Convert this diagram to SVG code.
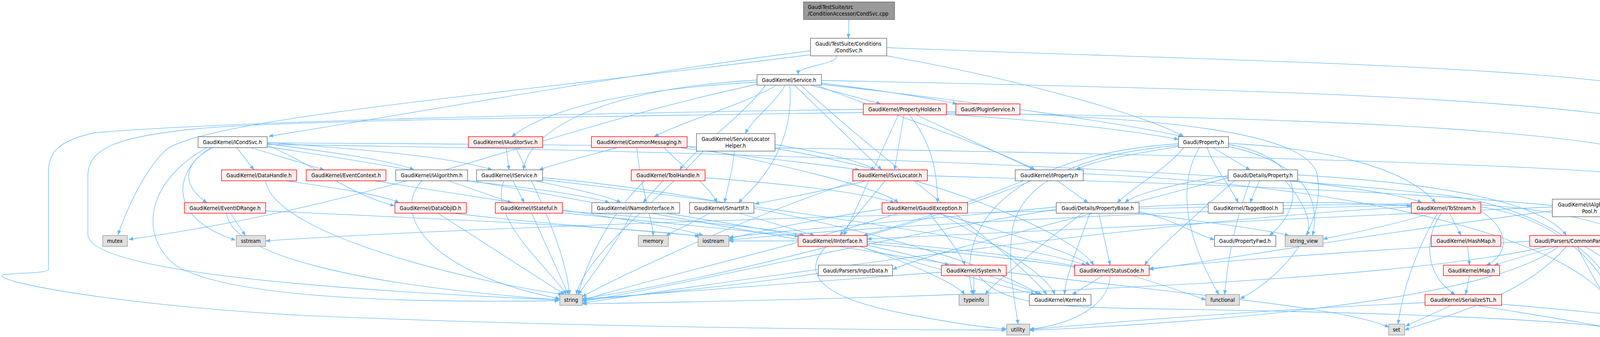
<svg xmlns="http://www.w3.org/2000/svg" width="4546" height="863" viewBox="0 0 4546 863">
<defs>
<marker id="a" viewBox="0 0 11 11" refX="11" refY="5.5" markerWidth="11" markerHeight="11" markerUnits="userSpaceOnUse" orient="auto"><path d="M0,1 L11,5.5 L0,10 z" fill="#63b8ff" stroke="#63b8ff" stroke-width="0.5"/></marker>
</defs>
<style>
.e path{fill:none;stroke:#63b8ff;stroke-width:1.3;marker-end:url(#a)}
rect{stroke-width:1.4}
.w rect{fill:#ffffff;stroke:#666666}
.r rect{fill:#fff0f0;stroke:#ff0000}
.g rect{fill:#e0e0e0;stroke:#999999}
.k rect{fill:#999999;stroke:#666666}
text{font-family:'DejaVu Sans Condensed','DejaVu Sans',sans-serif;font-stretch:condensed;font-size:14px;fill:#000000;text-anchor:middle}
.k text{text-anchor:start}
</style>
<rect width="4546" height="863" fill="#ffffff"/>
<g id="edges" class="e">
<path d="M2173,50 L2172,98"/>
<path d="M2142,143 C2142,167 2043,167 2043,191"/>
<path d="M2075,130 C1600,190 1000,300 688,349"/>
<path d="M2075,140 C1300,240 560,300 430,380 C380,420 330,520 302,601"/>
<path d="M2270,143 C2600,200 2950,300 3030,350"/>
<path d="M2270,122 C3200,160 4388,170 4388,290 L4388,420 C4388,480 4260,505 4166,522"/>
<path d="M1988,218 C1900,270 1750,310 1675,350"/>
<path d="M2010,218 C1980,270 1930,300 1908,342"/>
<path d="M2022,218 C2030,330 1990,430 1890,519"/>
<path d="M2034,218 L2257,435"/>
<path d="M2075,218 L2255,266"/>
<path d="M2103,213 C2250,230 2400,255 2450,266"/>
<path d="M2103,216 C2500,260 2900,320 3028,350"/>
<path d="M1938,210 C1600,230 1400,280 1310,350"/>
<path d="M1938,205 C1500,230 1350,350 1340,435"/>
<path d="M2090,218 C2300,300 2550,380 2650,435"/>
<path d="M1960,218 C1900,300 1780,380 1740,435"/>
<path d="M2050,218 C2300,450 2600,650 2680,754"/>
<path d="M2103,206 C3200,230 4436,250 4436,400 L4436,830"/>
<path d="M1938,216 C1400,330 1000,520 330,613"/>
<path d="M2314,294 L2290,435"/>
<path d="M2328,294 C2380,360 2400,430 2400,519"/>
<path d="M2345,294 L2648,435"/>
<path d="M2423,293 C2700,310 2900,335 3017,357"/>
<path d="M2423,290 C3300,300 4338,330 4338,460 L4338,720 C4338,790 4260,830 4194,842"/>
<path d="M2423,286 C3000,300 3330,340 3370,440 C3400,560 3300,700 3175,765"/>
<path d="M2210,288 C1400,300 700,310 500,330 C300,350 225,380 225,450 L225,600 C225,700 900,745 1431,768"/>
<path d="M2210,280 C1500,290 600,310 242,340 C150,360 124,390 124,440 L124,690 C124,702 5,698 5,706 C5,725 300,780 760,807 C1500,840 2300,845 2575,845"/>
<path d="M2300,294 C2250,400 2200,520 2160,603"/>
<path d="M606,378 L650,435"/>
<path d="M642,378 L830,435"/>
<path d="M545,378 C460,420 470,480 530,519"/>
<path d="M684,372 C800,420 900,500 1010,527"/>
<path d="M684,368 C850,390 1000,410 1060,435"/>
<path d="M684,365 C900,380 1150,400 1260,435"/>
<path d="M540,378 C440,440 430,560 603,615"/>
<path d="M530,378 C380,460 350,600 450,680 C600,770 1100,775 1431,770"/>
<path d="M684,376 C1200,450 2000,620 2600,700 C3100,760 3450,790 3556,838"/>
<path d="M684,370 C1500,380 3000,420 3700,500 C4000,540 4150,700 4158,830"/>
<path d="M684,366 C1800,370 3500,400 4100,440 C4400,470 4440,600 4440,830"/>
<path d="M1296,378 L1303,435"/>
<path d="M1320,378 C1380,500 1450,650 1458,754"/>
<path d="M1700,378 C1750,430 1820,480 1835,519"/>
<path d="M1740,378 C1900,400 2100,420 2200,435"/>
<path d="M1580,378 C1500,400 1420,420 1380,435"/>
<path d="M1759,375 C2000,420 2250,480 2300,519"/>
<path d="M1630,378 C1640,480 1670,560 1672,603"/>
<path d="M1880,387 C1875,440 1860,490 1855,519"/>
<path d="M1984,370 C2100,390 2200,410 2240,435"/>
<path d="M1984,380 C2400,450 2750,600 2800,679"/>
<path d="M1800,387 C1700,500 1500,650 1475,754"/>
<path d="M734,463 C850,480 980,500 1022,519"/>
<path d="M680,463 C700,600 1200,720 1440,754"/>
<path d="M960,463 C1300,520 1700,570 1800,603"/>
<path d="M590,546 L628,603"/>
<path d="M580,546 C590,650 900,730 1433,768"/>
<path d="M680,540 C1100,560 1600,580 1790,605"/>
<path d="M1121,546 L1445,754"/>
<path d="M1160,546 C1400,575 1650,590 1795,605"/>
<path d="M1148,463 L1310,519"/>
<path d="M1190,463 C1350,480 1500,500 1560,519"/>
<path d="M1080,463 C1000,550 1100,700 1433,765"/>
<path d="M1313,463 L1342,519"/>
<path d="M1370,463 C1450,480 1550,500 1590,519"/>
<path d="M1389,455 C1900,500 2500,650 2660,754"/>
<path d="M1389,460 C1900,520 2600,620 2780,679"/>
<path d="M1290,463 C1250,560 1400,680 1450,754"/>
<path d="M1697,463 L1646,519"/>
<path d="M1805,455 C2000,470 2200,490 2290,519"/>
<path d="M1650,463 C1550,560 1500,680 1480,754"/>
<path d="M2266,463 L2150,603"/>
<path d="M2218,463 C2100,490 2000,510 1932,522"/>
<path d="M2190,463 C1900,560 1600,700 1490,760"/>
<path d="M2374,450 C3000,470 4200,500 4380,600 C4430,650 4435,750 4435,830"/>
<path d="M2620,463 C2450,530 2300,580 2210,603"/>
<path d="M2707,463 L2785,519"/>
<path d="M2640,463 C2300,600 1800,720 1490,765"/>
<path d="M2773,445 C3400,470 4100,600 4150,830"/>
<path d="M3224,463 L3200,519"/>
<path d="M3311,463 C3450,480 3600,500 3640,519"/>
<path d="M3322,448 C3700,470 3950,520 4010,603"/>
<path d="M3144,455 C2800,550 2400,640 2285,690"/>
<path d="M3160,463 C3050,560 2950,650 2930,679"/>
<path d="M3290,463 C3340,520 3360,570 3345,603"/>
<path d="M3200,463 C3150,600 3140,700 3135,754"/>
<path d="M3144,450 C3000,470 2900,500 2880,519"/>
<path d="M1440,540 C1700,560 1950,580 2060,603"/>
<path d="M1440,545 C2000,600 2600,660 2760,685"/>
<path d="M1361,546 L1455,754"/>
<path d="M1707,546 C1850,570 1980,590 2045,606"/>
<path d="M1617,546 C1580,620 1520,700 1480,754"/>
<path d="M1893,546 L2085,603"/>
<path d="M1818,546 L1705,603"/>
<path d="M2399,546 C2600,600 2750,650 2790,679"/>
<path d="M2406,546 C2550,630 2680,700 2700,754"/>
<path d="M2380,546 C2420,600 2460,650 2470,679"/>
<path d="M2300,546 C2000,640 1600,730 1491,770"/>
<path d="M2258,535 C2100,560 1950,590 1866,612"/>
<path d="M2916,542 C3000,560 3060,600 3109,614"/>
<path d="M2790,546 C2760,630 2730,700 2725,754"/>
<path d="M2813,546 L2842,679"/>
<path d="M2916,530 C3200,515 3450,515 3613,528"/>
<path d="M2704,536 C2300,600 1800,720 1491,772"/>
<path d="M2916,546 C3100,570 3250,590 3300,603"/>
<path d="M2770,546 C2650,640 2550,720 2522,754"/>
<path d="M2704,530 C2400,560 2000,590 1866,608"/>
<path d="M3711,546 L3740,603"/>
<path d="M3791,540 C3880,600 3850,660 3805,679"/>
<path d="M3690,546 C3650,600 3640,700 3725,754"/>
<path d="M3680,546 C3620,650 3590,750 3579,830"/>
<path d="M3665,546 C3550,580 3450,600 3387,612"/>
<path d="M3613,530 C3000,560 2000,700 1491,776"/>
<path d="M3613,525 C3000,540 2200,580 1866,615"/>
<path d="M3613,522 C2800,530 1200,580 680,617"/>
<path d="M3791,530 C4000,560 4130,700 4150,830"/>
<path d="M3791,525 C4100,540 4400,650 4430,830"/>
<path d="M3974,530 C3300,560 2600,590 2220,612"/>
<path d="M3974,540 C3500,600 3100,670 2942,690"/>
<path d="M4164,544 C4350,600 4455,700 4452,830"/>
<path d="M2200,631 C2400,690 2600,740 2650,754"/>
<path d="M2220,618 C2500,640 2700,670 2760,683"/>
<path d="M2220,628 C2320,650 2400,670 2430,679"/>
<path d="M2200,631 C2350,680 2450,730 2470,754"/>
<path d="M2043,617 C1980,617 1920,617 1866,617"/>
<path d="M2115,631 C2050,700 2100,760 2300,800 C2450,830 2530,840 2577,842"/>
<path d="M3757,631 L3762,679"/>
<path d="M3985,631 L3825,679"/>
<path d="M4038,631 C4080,720 4130,790 4150,830"/>
<path d="M4057,631 C4200,720 4380,800 4425,830"/>
<path d="M4010,631 C3900,760 3700,810 3596,845"/>
<path d="M3916,618 C3500,640 3100,670 2942,688"/>
<path d="M3960,631 C3500,740 2000,770 1491,778"/>
<path d="M3990,631 C3800,780 3000,830 2636,846"/>
<path d="M2095,700 C1900,730 1600,760 1491,768"/>
<path d="M2532,706 L2668,754"/>
<path d="M2493,706 L2493,754"/>
<path d="M2410,697 C2100,720 1700,750 1491,766"/>
<path d="M2505,706 C2560,770 2650,785 2900,790 C3600,800 4000,820 4130,840"/>
<path d="M2823,706 L2745,754"/>
<path d="M2842,706 C2840,780 2750,830 2636,843"/>
<path d="M2898,706 C2980,730 3050,755 3087,768"/>
<path d="M3762,706 L3752,754"/>
<path d="M3716,782 L3598,835"/>
<path d="M3780,782 C3950,810 4080,830 4130,842"/>
<path d="M3844,779 C4100,800 4300,825 4419,842"/>
<path d="M3648,775 C3300,790 2900,820 2636,844"/>
<path d="M3105,378 L3200,435"/>
<path d="M3030,378 C2990,430 2900,480 2860,519"/>
<path d="M3145,370 C3330,400 3350,520 3250,603"/>
<path d="M3017,375 C2900,395 2800,410 2755,435"/>
<path d="M3090,378 C3110,430 3150,480 3170,519"/>
<path d="M3145,367 C3400,380 3600,430 3675,519"/>
<path d="M3145,375 C3350,420 3380,520 3360,603"/>
<path d="M3017,368 C2550,400 2450,600 2490,754"/>
<path d="M3017,372 C2700,400 2600,500 2590,600 C2580,700 2600,780 2606,830"/>
<path d="M3070,378 C3000,500 3060,650 3120,754"/>
</g>
<g id="root" class="k"><rect x="2057" y="5" width="233" height="45"/><text x="2068" y="23">GaudiTestSuite/src</text><text x="2068" y="40">/ConditionAccessor/CondSvc.cpp</text></g>
<g id="condsvch" class="w"><rect x="2075" y="98" width="195" height="45"/><text x="2172" y="117">Gaudi/TestSuite/Conditions</text><text x="2172" y="134">/CondSvc.h</text></g>
<g id="service" class="w"><rect x="1938" y="191" width="165" height="27"/><text x="2020" y="210">GaudiKernel/Service.h</text></g>
<g id="propholder" class="r"><rect x="2210" y="266" width="213" height="28"/><text x="2316" y="285">GaudiKernel/PropertyHolder.h</text></g>
<g id="plugin" class="r"><rect x="2447" y="266" width="164" height="28"/><text x="2529" y="285">Gaudi/PluginService.h</text></g>
<g id="icondsvc" class="w"><rect x="507" y="350" width="177" height="28"/><text x="595" y="369">GaudiKernel/ICondSvc.h</text></g>
<g id="iauditor" class="r"><rect x="1199" y="350" width="190" height="28"/><text x="1294" y="369">GaudiKernel/IAuditorSvc.h</text></g>
<g id="commonmsg" class="r"><rect x="1514" y="350" width="245" height="28"/><text x="1636" y="369">GaudiKernel/CommonMessaging.h</text></g>
<g id="slh" class="w"><rect x="1783" y="342" width="201" height="45"/><text x="1883" y="361">GaudiKernel/ServiceLocator</text><text x="1883" y="378">Helper.h</text></g>
<g id="property" class="w"><rect x="3017" y="350" width="128" height="28"/><text x="3081" y="369">Gaudi/Property.h</text></g>
<g id="datahandle" class="r"><rect x="567" y="435" width="192" height="28"/><text x="663" y="454">GaudiKernel/DataHandle.h</text></g>
<g id="eventctx" class="r"><rect x="784" y="435" width="204" height="28"/><text x="886" y="454">GaudiKernel/EventContext.h</text></g>
<g id="ialgorithm" class="w"><rect x="1013" y="435" width="184" height="28"/><text x="1105" y="454">GaudiKernel/IAlgorithm.h</text></g>
<g id="iservice" class="w"><rect x="1220" y="435" width="169" height="28"/><text x="1304" y="454">GaudiKernel/IService.h</text></g>
<g id="toolhandle" class="r"><rect x="1616" y="435" width="189" height="28"/><text x="1710" y="454">GaudiKernel/ToolHandle.h</text></g>
<g id="isvclocator" class="r"><rect x="2183" y="435" width="191" height="28"/><text x="2278" y="454">GaudiKernel/ISvcLocator.h</text></g>
<g id="iproperty" class="w"><rect x="2599" y="435" width="174" height="28"/><text x="2686" y="454">GaudiKernel/IProperty.h</text></g>
<g id="detprop" class="w"><rect x="3144" y="435" width="178" height="28"/><text x="3233" y="454">Gaudi/Details/Property.h</text></g>
<g id="ialgrp" class="w"><rect x="3974" y="510" width="190" height="45"/><text x="4069" y="529">GaudiKernel/IAlgResource</text><text x="4069" y="546">Pool.h</text></g>
<g id="eventidrange" class="r"><rect x="472" y="519" width="208" height="27"/><text x="576" y="538">GaudiKernel/EventIDRange.h</text></g>
<g id="dataobjid" class="r"><rect x="1011" y="519" width="183" height="27"/><text x="1102" y="538">GaudiKernel/DataObjID.h</text></g>
<g id="istateful" class="r"><rect x="1268" y="519" width="172" height="27"/><text x="1354" y="538">GaudiKernel/IStateful.h</text></g>
<g id="inamed" class="w"><rect x="1515" y="519" width="225" height="27"/><text x="1627" y="538">GaudiKernel/INamedInterface.h</text></g>
<g id="smartif" class="w"><rect x="1765" y="519" width="165" height="27"/><text x="1847" y="538">GaudiKernel/SmartIF.h</text></g>
<g id="gaudiexc" class="r"><rect x="2258" y="519" width="219" height="27"/><text x="2367" y="538">GaudiKernel/GaudiException.h</text></g>
<g id="propbase" class="w"><rect x="2704" y="519" width="212" height="27"/><text x="2810" y="538">Gaudi/Details/PropertyBase.h</text></g>
<g id="taggedbool" class="w"><rect x="3093" y="519" width="192" height="27"/><text x="3189" y="538">GaudiKernel/TaggedBool.h</text></g>
<g id="tostream" class="r"><rect x="3613" y="519" width="178" height="27"/><text x="3702" y="538">GaudiKernel/ToStream.h</text></g>
<g id="mutex" class="g"><rect x="263" y="603" width="63" height="28"/><text x="294" y="622">mutex</text></g>
<g id="sstream" class="g"><rect x="605" y="603" width="75" height="28"/><text x="642" y="622">sstream</text></g>
<g id="memory" class="g"><rect x="1634" y="603" width="77" height="28"/><text x="1672" y="622">memory</text></g>
<g id="iostream" class="g"><rect x="1787" y="603" width="79" height="28"/><text x="1826" y="622">iostream</text></g>
<g id="iinterface" class="r"><rect x="2043" y="603" width="177" height="28"/><text x="2131" y="622">GaudiKernel/IInterface.h</text></g>
<g id="propfwd" class="w"><rect x="3109" y="603" width="157" height="28"/><text x="3187" y="622">Gaudi/PropertyFwd.h</text></g>
<g id="stringview" class="g"><rect x="3290" y="603" width="97" height="28"/><text x="3338" y="622">string_view</text></g>
<g id="hashmap" class="r"><rect x="3664" y="603" width="178" height="28"/><text x="3753" y="622">GaudiKernel/HashMap.h</text></g>
<g id="commonparsers" class="r"><rect x="3916" y="603" width="233" height="28"/><text x="4032" y="622">Gaudi/Parsers/CommonParsers.h</text></g>
<g id="inputdata" class="w"><rect x="2095" y="679" width="190" height="27"/><text x="2190" y="698">Gaudi/Parsers/InputData.h</text></g>
<g id="system" class="r"><rect x="2410" y="679" width="166" height="27"/><text x="2493" y="698">GaudiKernel/System.h</text></g>
<g id="statuscode" class="r"><rect x="2751" y="679" width="191" height="27"/><text x="2846" y="698">GaudiKernel/StatusCode.h</text></g>
<g id="map" class="r"><rect x="3695" y="679" width="144" height="27"/><text x="3767" y="698">GaudiKernel/Map.h</text></g>
<g id="string" class="g"><rect x="1433" y="754" width="58" height="28"/><text x="1462" y="773">string</text></g>
<g id="typeinfo" class="g"><rect x="2455" y="754" width="76" height="28"/><text x="2493" y="773">typeinfo</text></g>
<g id="kernel" class="w"><rect x="2635" y="754" width="158" height="28"/><text x="2714" y="773">GaudiKernel/Kernel.h</text></g>
<g id="functional" class="g"><rect x="3087" y="754" width="86" height="28"/><text x="3130" y="773">functional</text></g>
<g id="serializestl" class="r"><rect x="3648" y="754" width="196" height="28"/><text x="3746" y="773">GaudiKernel/SerializeSTL.h</text></g>
<g id="utility" class="g"><rect x="2577" y="830" width="59" height="28"/><text x="2606" y="849">utility</text></g>
<g id="set" class="g"><rect x="3555" y="830" width="41" height="28"/><text x="3575" y="849">set</text></g>
<g id="vector" class="g"><rect x="4130" y="830" width="62" height="28"/><text x="4161" y="849">vector</text></g>
<g id="list" class="g"><rect x="4419" y="830" width="42" height="28"/><text x="4440" y="849">list</text></g>
</svg>
